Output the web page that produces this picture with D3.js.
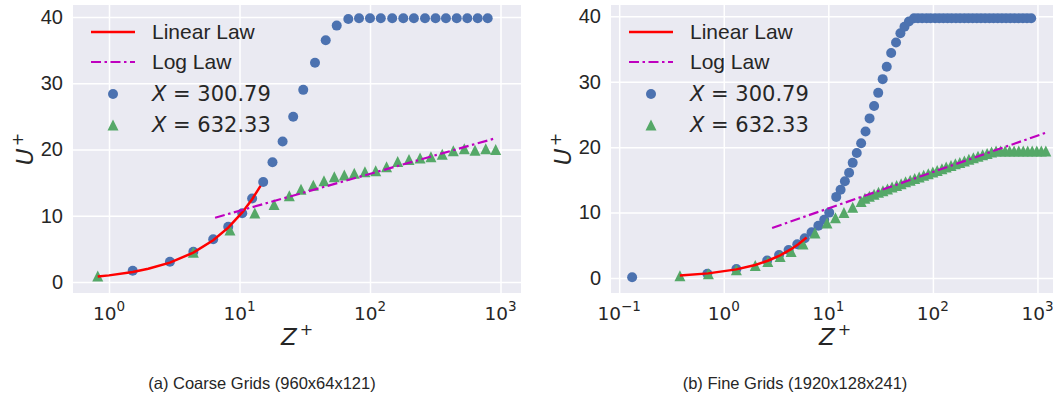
<!DOCTYPE html>
<html>
<head>
<meta charset="utf-8">
<script src="https://cdn.jsdelivr.net/npm/d3@7"></script>
<style>
  body { margin: 0; background: #fff; }
  svg text { fill: #262626; }
</style>
</head>
<body>
<div id="chart"></div>
<script>
// ---- data ----
const yTicks = [0, 10, 20, 30, 40];
const leftXTicks = [1, 10, 100, 1000];
const rightXTicks = [0.1, 1, 10, 100, 1000];
const legendLabels = ['Linear Law', 'Log Law', '300.79', '632.33'];
const captions = ['(a) Coarse Grids (960x64x121)', '(b) Fine Grids (1920x128x241)'];

// (a) coarse grid
const leftBlueZ = [1.52, 2.93, 4.43, 6.29, 8.2, 10.5, 12.5, 15.2, 17.9, 21.4, 25.8, 30.8, 37.9, 45.8, 55.6, 68.2, 82.4, 100, 121, 148, 180, 217, 264, 318, 382, 462, 557, 669, 798];
const leftBlueU = [1.7, 3.06, 4.57, 6.44, 8.35, 10.37, 12.6, 15.1, 18.07, 21.2, 24.95, 29.0, 33.1, 36.5, 38.7, 39.7, 39.8, 39.8, 39.8, 39.8, 39.8, 39.8, 39.8, 39.8, 39.8, 39.8, 39.8, 39.8, 39.8];
const leftGreenZ = [0.82, 4.43, 8.45, 13.1, 18.4, 24.1, 29.6, 36.8, 44.4, 53.3, 63.6, 75.8, 91.5, 110.6, 134, 163, 199, 242, 293, 358, 435, 528, 638, 771, 919];
const leftGreenU = [0.9, 4.5, 7.85, 10.4, 11.7, 13.0, 14.0, 14.6, 15.3, 15.9, 16.15, 16.4, 16.65, 16.8, 17.4, 18.2, 18.5, 18.7, 18.9, 19.3, 19.8, 20.1, 19.9, 20.1, 20.0];
const leftLinZ = [0.82, 1.0, 1.52, 2.0, 2.93, 4.43, 6.29, 8.2, 10.5, 12.5, 14.5];
const leftLinU = [0.82, 1.0, 1.52, 2.0, 2.93, 4.43, 6.29, 8.2, 10.5, 12.5, 14.5];
const leftLogZ = [6.5, 880];
const leftLogU = [9.7, 21.6];

// (b) fine grid
const rightBlueZ = [0.133, 0.697, 1.32, 2.6, 3.38, 4.17, 5.05, 5.95, 6.92, 8.03, 9.14, 10.2, 11.9, 13.1, 14.4, 15.8, 17.1, 18.7, 20.6, 22.7, 24.8, 27.4, 30.0, 33.1, 36.2, 39.9, 44.4, 48.9, 53.5, 59.0,
  66, 72, 79, 87, 95, 105, 115, 126, 138, 151, 166, 182, 200, 219, 240, 263, 288, 316, 347, 380, 417, 457, 501, 550, 603, 661, 725, 794, 871];
const rightBlueU = [0.12, 0.66, 1.37, 2.67, 3.53, 4.29, 5.16, 6.08, 7.0, 8.0, 8.9, 10.0, 12.4, 13.5, 14.8, 16.1, 17.6, 19.1, 20.6, 22.4, 24.4, 26.3, 28.3, 30.4, 32.3, 34.4, 36.0, 37.4, 38.4, 39.2,
  39.7, 39.7, 39.7, 39.7, 39.7, 39.7, 39.7, 39.7, 39.7, 39.7, 39.7, 39.7, 39.7, 39.7, 39.7, 39.7, 39.7, 39.7, 39.7, 39.7, 39.7, 39.7, 39.7, 39.7, 39.7, 39.7, 39.7, 39.7, 39.7];
const rightGreenZ = [0.381, 0.713, 1.32, 2.0, 2.64, 3.46, 4.41, 5.73, 7.46, 9.71, 11.7, 14.1, 17.1, 20.6,
  22.4, 24.7, 27.4, 30.2, 33.3, 36.8, 40.7, 45.0, 49.7, 54.8, 60.7, 67.0, 74.0, 81.7, 90.4, 99.8, 110, 122, 134, 149,
  164, 181, 200, 221, 244, 270, 299, 330, 364, 402, 445, 491, 542, 598, 662, 731, 807, 891, 984, 1089, 1202];
const rightGreenU = [0.35, 0.66, 1.27, 1.92, 2.53, 3.3, 4.06, 5.19, 6.87, 8.4, 9.2, 10.0, 10.8, 11.7,
  12.2, 12.5, 12.8, 13.1, 13.35, 13.6, 13.9, 14.15, 14.4, 14.7, 14.95, 15.2, 15.45, 15.7, 15.95, 16.2, 16.45, 16.7, 16.95, 17.2,
  17.45, 17.65, 17.9, 18.15, 18.4, 18.6, 18.85, 19.05, 19.25, 19.4, 19.4, 19.4, 19.4, 19.4, 19.4, 19.4, 19.4, 19.4, 19.4, 19.4, 19.4];
const rightLinZ = [0.38, 0.71, 1.32, 2.0, 2.64, 3.46, 4.41, 5.2, 6.2];
const rightLinU = [0.38, 0.71, 1.32, 2.0, 2.64, 3.46, 4.41, 5.2, 6.2];
const rightLogZ = [2.9, 1200];
const rightLogU = [7.65, 22.2];

const width = 1053;
const height = 404;
const blue = '#4C72B0';
const green = '#55A868';
const red = '#FF0000';
const magenta = '#BF00BF';
const mathFont = '"DejaVu Sans", sans-serif';
const textFont = '"Liberation Sans", Arial, sans-serif';

const svg = d3.select('#chart').append('svg')
  .attr('width', width)
  .attr('height', height);

const zip = (xs, ys) => xs.map((x, i) => ({z: x, u: ys[i]}));

function panel(opts) {
  const {left, right, top, bottom, xDomain, yDomain, xTicks, blueData, greenData, linData, logData, caption, captionX} = opts;
  const xScale = d3.scaleLog().domain(xDomain).range([left, right]);
  const yScale = d3.scaleLinear().domain(yDomain).range([bottom, top]);

  const g = svg.append('g');
  g.append('rect')
    .attr('x', left).attr('y', top)
    .attr('width', right - left).attr('height', bottom - top)
    .attr('fill', '#EAEAF2');

  // grid lines (seaborn darkgrid)
  const yAxis = d3.axisLeft(yScale).tickValues(yTicks).tickSize(-(right - left)).tickPadding(10).tickFormat(d3.format('d'));
  const yAxisG = g.append('g').attr('transform', `translate(${left},0)`).call(yAxis);
  yAxisG.select('.domain').remove();
  yAxisG.selectAll('line').attr('stroke', '#fff').attr('stroke-width', 1.5);
  yAxisG.selectAll('text')
    .style('font-family', textFont).style('font-size', '20px').attr('fill', '#262626');

  const xAxis = d3.axisBottom(xScale).tickValues(xTicks).tickSize(-(bottom - top)).tickFormat('');
  const xAxisG = g.append('g').attr('transform', `translate(0,${bottom})`).call(xAxis);
  xAxisG.select('.domain').remove();
  xAxisG.selectAll('line').attr('stroke', '#fff').attr('stroke-width', 1.5);

  // x tick labels as 10^n
  xTicks.forEach(t => {
    const e = Math.round(Math.log10(t));
    const txt = g.append('text')
      .attr('x', xScale(t)).attr('y', bottom + 27)
      .attr('text-anchor', 'middle')
      .style('font-family', mathFont).style('font-size', '18.5px');
    txt.append('tspan').text('10');
    txt.append('tspan').attr('dy', -9).style('font-size', '13.5px').text(e < 0 ? '\u2212' + (-e) : e);
  });

  // axis labels
  const xl = g.append('text')
    .attr('x', (left + right) / 2).attr('y', bottom + 52)
    .attr('text-anchor', 'middle')
    .style('font-family', mathFont).style('font-size', '23px');
  xl.append('tspan').style('font-style', 'italic').text('Z');
  xl.append('tspan').attr('dx', 3).attr('dy', -10).style('font-size', '16px').text('+');

  const yl = g.append('text')
    .attr('transform', `translate(${left - 40},${(top + bottom) / 2}) rotate(-90)`)
    .attr('text-anchor', 'middle')
    .style('font-family', mathFont).style('font-size', '23px');
  yl.append('tspan').style('font-style', 'italic').text('U');
  yl.append('tspan').attr('dx', 2).attr('dy', -10).style('font-size', '16px').text('+');

  const plot = g.append('g');
  const tri = r => `M0,${-r}L${r},${r}L${-r},${r}Z`;

  plot.selectAll('circle.blue').data(blueData)
    .enter().append('circle')
    .attr('class', 'blue')
    .attr('cx', d => xScale(d.z))
    .attr('cy', d => yScale(d.u))
    .attr('r', 5)
    .attr('fill', blue);

  plot.selectAll('path.green').data(greenData)
    .enter().append('path')
    .attr('class', 'green')
    .attr('d', tri(5.5))
    .attr('transform', d => `translate(${xScale(d.z)},${yScale(d.u)})`)
    .attr('fill', green);

  const line = d3.line().x(d => xScale(d.z)).y(d => yScale(d.u));
  plot.append('path').datum(linData)
    .attr('d', line).attr('fill', 'none')
    .attr('stroke', red).attr('stroke-width', 2.5);
  plot.append('path').datum(logData)
    .attr('d', line).attr('fill', 'none')
    .attr('stroke', magenta).attr('stroke-width', 2.2)
    .attr('stroke-dasharray', '10,3.5,2.5,3.5');

  // legend
  const lg = g.append('g').attr('transform', `translate(${left},0)`);
  const rows = [32, 62, 94, 125];
  lg.append('line').attr('x1', 18).attr('x2', 62).attr('y1', rows[0]).attr('y2', rows[0])
    .attr('stroke', red).attr('stroke-width', 2.5);
  lg.append('line').attr('x1', 18).attr('x2', 62).attr('y1', rows[1]).attr('y2', rows[1])
    .attr('stroke', magenta).attr('stroke-width', 2.2).attr('stroke-dasharray', '10,3.5,2.5,3.5');
  lg.append('circle').attr('cx', 40).attr('cy', rows[2]).attr('r', 5).attr('fill', blue);
  lg.append('path').attr('d', tri(5.5)).attr('transform', `translate(40,${rows[3]})`).attr('fill', green);

  legendLabels.forEach((lab, i) => {
    const t = lg.append('text').attr('x', 79).attr('y', rows[i]).attr('dy', '0.35em')
      .style('font-size', '21px');
    if (i < 2) {
      t.style('font-family', textFont).text(lab);
    } else {
      t.style('font-family', mathFont);
      t.append('tspan').style('font-style', 'italic').text('X');
      t.append('tspan').text(' = ' + lab);
    }
  });

  svg.append('text')
    .attr('x', captionX).attr('y', 389)
    .attr('text-anchor', 'middle')
    .style('font-family', textFont).style('font-size', '16.5px')
    .attr('fill', '#1a1a1a')
    .text(caption);
}

panel({
  left: 73, right: 521, top: 5, bottom: 293,
  xDomain: [0.53, 1436], yDomain: [-1.66, 41.81], xTicks: leftXTicks,
  blueData: zip(leftBlueZ, leftBlueU), greenData: zip(leftGreenZ, leftGreenU),
  linData: zip(leftLinZ, leftLinU), logData: zip(leftLogZ, leftLogU),
  caption: captions[0], captionX: 262
});

panel({
  left: 611, right: 1059, top: 5, bottom: 293,
  xDomain: [0.0835, 1607], yDomain: [-2.29, 41.73], xTicks: rightXTicks,
  blueData: zip(rightBlueZ, rightBlueU), greenData: zip(rightGreenZ, rightGreenU),
  linData: zip(rightLinZ, rightLinU), logData: zip(rightLogZ, rightLogU),
  caption: captions[1], captionX: 795
});
</script>
</body>
</html>
